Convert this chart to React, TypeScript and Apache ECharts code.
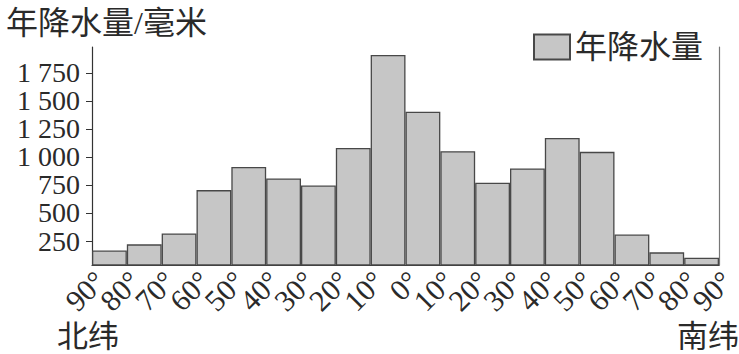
import React, { useEffect, useRef } from "react";
import * as echarts from "echarts";

const zones = [
  "90°N-80°N", "80°N-70°N", "70°N-60°N", "60°N-50°N", "50°N-40°N", "40°N-30°N",
  "30°N-20°N", "20°N-10°N", "10°N-0°", "0°-10°S", "10°S-20°S", "20°S-30°S",
  "30°S-40°S", "40°S-50°S", "50°S-60°S", "60°S-70°S", "70°S-80°S", "80°S-90°S",
];
const precipitation = [165, 220, 318, 704, 911, 808, 745, 1080, 1908, 1402, 1051, 769, 897, 1169, 1045, 308, 149, 101];
const latLabels = [
  "90°", "80°", "70°", "60°", "50°", "40°", "30°", "20°", "10°", "0°",
  "10°", "20°", "30°", "40°", "50°", "60°", "70°", "80°", "90°",
];
const yTicks = [250, 500, 750, 1000, 1250, 1500, 1750];

const FONT = '"Liberation Serif", "Noto Sans CJK SC", serif';
const INK = "#2a2a2a";

export default function App() {
  const ref = useRef<HTMLDivElement>(null);
  useEffect(() => {
    if (!ref.current) return;
    const chart = echarts.init(ref.current, undefined, { renderer: "svg" });
    const fmt = (v: number) => {
      const s = String(Math.round(v));
      return s.length > 3 ? s.slice(0, s.length - 3) + " " + s.slice(-3) : s;
    };
    chart.setOption({
      animation: false,
      backgroundColor: "#fff",
      textStyle: { fontFamily: FONT },
      title: {
        text: "年降水量/毫米",
        left: 1,
        top: 2,
        textStyle: { fontFamily: FONT, fontSize: 32, fontWeight: "normal", color: INK },
      },
      legend: {
        left: 528,
        top: 26,
        icon: "rect",
        itemWidth: 36,
        itemHeight: 25,
        itemGap: 6,
        textStyle: { fontFamily: FONT, fontSize: 32, color: INK },
        data: ["年降水量"],
      },
      grid: { left: 92, right: 20, top: 47, bottom: 89 },
      xAxis: [
        {
          type: "category",
          data: zones,
          boundaryGap: true,
          axisLine: { show: true, lineStyle: { color: "#333", width: 1.2 } },
          axisTick: { show: false },
          axisLabel: { show: false },
          splitLine: { show: false },
        },
        {
          type: "value",
          min: 0,
          max: 18,
          interval: 1,
          position: "bottom",
          axisLine: { show: false },
          axisTick: { show: false },
          splitLine: { show: false },
          axisLabel: { show: false },
        },
      ],
      yAxis: [
        {
          type: "value",
          min: 36,
          max: 1980,
          position: "left",
          axisLine: { show: true, lineStyle: { color: "#333", width: 1.2 } },
          axisTick: {
            show: true,
            length: 6,
            lineStyle: { color: "#333" },
            customValues: yTicks,
          },
          axisLabel: { show: false },
          splitLine: { show: false },
        },
        {
          type: "value",
          min: 36,
          max: 1980,
          position: "right",
          axisLine: { show: true, lineStyle: { color: "#777", width: 1.2 } },
          axisTick: { show: false },
          axisLabel: { show: false },
          splitLine: { show: false },
        },
      ],
      series: [
        {
          name: "年降水量",
          type: "bar",
          xAxisIndex: 0,
          yAxisIndex: 0,
          data: precipitation,
          barWidth: "100%",
          barCategoryGap: "0%",
          itemStyle: { color: "#c6c6c6", borderColor: "#484848", borderWidth: 1.3 },
        },
      ],
    });

    const baseY = chart.convertToPixel({ yAxisIndex: 0 }, 36) as number;
    const graphics: any[] = [];
    yTicks.forEach((v) => {
      const py = chart.convertToPixel({ yAxisIndex: 0 }, v) as number;
      graphics.push({
        type: "text",
        x: 80,
        y: py,
        style: {
          text: fmt(v),
          fontSize: 28,
          lineHeight: 26,
          fontFamily: FONT,
          fill: INK,
          align: "right",
          verticalAlign: "middle",
        },
      });
    });
    latLabels.forEach((lab, i) => {
      const px = chart.convertToPixel({ xAxisIndex: 1 }, i) as number;
      graphics.push({
        type: "text",
        x: px + 8,
        y: baseY + 11,
        rotation: Math.PI / 4,
        style: {
          text: lab,
          fontSize: 30,
          lineHeight: 26,
          fontFamily: FONT,
          fill: INK,
          align: "right",
          verticalAlign: "middle",
        },
      });
    });
    graphics.push(
      {
        type: "text",
        left: 57,
        top: 321,
        style: { text: "北纬", fontSize: 31, fontFamily: FONT, fill: INK },
      },
      {
        type: "text",
        right: 0,
        top: 321,
        style: { text: "南纬", fontSize: 31, fontFamily: FONT, fill: INK },
      }
    );
    chart.setOption({ graphic: graphics });
    return () => chart.dispose();
  }, []);
  return (
    <div
      ref={ref}
      style={{ position: "fixed", left: 0, top: 0, width: 739, height: 354 }}
    />
  );
}
